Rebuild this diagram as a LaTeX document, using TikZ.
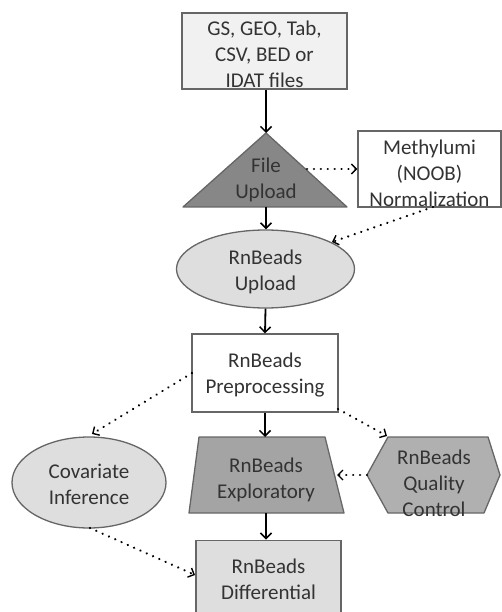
\documentclass[tikz,border=0pt]{standalone}
\usepackage{fontspec}
\setmainfont{Carlito}
\usetikzlibrary{arrows.meta,shapes.geometric}
\definecolor{txt}{HTML}{333333}
\definecolor{edge}{HTML}{666666}
\definecolor{lightfill}{HTML}{F1F1F1}
\definecolor{midfill}{HTML}{DEDEDE}
\definecolor{darkfill}{HTML}{878787}
\definecolor{trapfill}{HTML}{A4A4A4}
\definecolor{hexfill}{HTML}{B0B0B0}
\tikzset{
  lbl/.style={text=txt,align=center,font=\fontsize{21}{26}\selectfont,inner sep=0pt},
  boxnode/.style={draw=edge,line width=1.3pt,rectangle,inner sep=0pt},
  ellnode/.style={draw=edge,line width=1.3pt,ellipse,inner sep=0pt},
  shapeline/.style={draw=edge,line width=1.3pt,line join=round},
  flow/.style={line width=1.8pt,-{Straight Barb[length=5.5pt,width=11pt,line width=1.5pt]}},
  dotflow/.style={line width=2.4pt,dash pattern=on 0.1pt off 6.8pt,line cap=round,-{Straight Barb[length=5pt,width=10pt,line width=1.4pt]}}
}
\begin{document}
\begin{tikzpicture}[x=1pt,y=-1pt]
\useasboundingbox (0,0) rectangle (502,612);
% top box
\node[boxnode,fill=lightfill,minimum width=165pt,minimum height=76pt] (src) at (264.5,51) {};
\node[lbl] at (264.5,54) {GS, GEO, Tab,\\CSV, BED or\\IDAT files};
% triangle
\path[shapeline,fill=darkfill] (266,133) -- (347,207) -- (183,207) -- cycle;
\coordinate (triTop) at (266,133);
\coordinate (triBot) at (266,207);
\coordinate (triRight) at (307,169);
\node[lbl] (fu) at (266,180) {File\\Upload};
% methylumi box
\node[boxnode,fill=white,minimum width=143pt,minimum height=76pt] (meth) at (429.5,169) {};
\node[lbl] at (429.5,173) {Methylumi\\(NOOB)\\Normalization};
% RnBeads upload ellipse
\node[ellnode,fill=midfill,minimum width=178pt,minimum height=78pt] (up) at (265.5,269) {};
\node[lbl] at (265.5,272) {RnBeads\\Upload};
% preprocessing box
\node[boxnode,fill=white,minimum width=146pt,minimum height=78pt] (pre) at (265,373) {};
\node[lbl] at (265,375) {RnBeads\\Preprocessing};
% trapezoid
\path[shapeline,fill=trapfill] (199,437) -- (325,437) -- (344,513) -- (189,513) -- cycle;
\coordinate (trapTop) at (265,437);
\coordinate (trapBot) at (266,513);
\coordinate (trapRight) at (337,475);
\node[lbl] (expl) at (266,480) {RnBeads\\Exploratory};
% hexagon
\path[shapeline,fill=hexfill] (367,475) -- (388,437) -- (488,437) -- (500,475) -- (484,513) -- (388,513) -- cycle;
\coordinate (hexLeft) at (367,475);
\coordinate (hexTL) at (387,436);
\node[lbl] (qc) at (434,483) {RnBeads\\Quality\\Control};
% covariate ellipse
\node[ellnode,fill=midfill,minimum width=154pt,minimum height=91pt] (cov) at (89,482.5) {};
\node[lbl] at (89,484) {Covariate\\Inference};
% differential box
\node[boxnode,fill=midfill,minimum width=145pt,minimum height=90pt,anchor=north] (diff) at (268.5,539.5) {};
\node[lbl] at (268.5,579) {RnBeads\\Differential};
% connectors
\coordinate (methBot) at (433,207);
\coordinate (upNE) at (332,242);
\coordinate (preLeft) at (192,373);
\coordinate (covTop) at (92,434);
\coordinate (preBR) at (338,409);
\coordinate (covBot) at (90,528);
\coordinate (diffLeft) at (195,575);
\draw[flow] (src.south -| triTop) -- (triTop);
\draw[flow] (triBot) -- (up.north -| triBot);
\draw[flow] (up.south) -- (pre.north);
\draw[flow] (pre.south) -- (trapTop);
\draw[flow] (trapBot) -- (diff.north -| trapBot);
\draw[dotflow] (triRight) -- (meth.west |- triRight);
\draw[dotflow] (methBot) -- (upNE);
\draw[dotflow] (preLeft) -- (covTop);
\draw[dotflow] (preBR) -- (hexTL);
\draw[dotflow] (hexLeft) -- (trapRight);
\draw[dotflow] (covBot) -- (diffLeft);
\end{tikzpicture}
\end{document}
